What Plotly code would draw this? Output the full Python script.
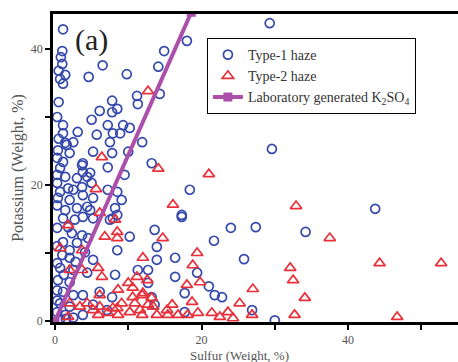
import plotly.graph_objects as go

# Type-1 haze (Sulfur %, Potassium %)
t1_s = [1.1, 1.0, 0.8, 1.0, 0.5, 1.4, 0.7, 1.1, 4.6, 6.5, 9.8, 0.5, 6.1, 7.8, 8.5, 11.2, 11.3, 18.0, 14.9, 14.1, 14.3, 29.3,
        1.1, 5.0, 7.8, 7.2, 5.7, 7.9, 7.5, 1.1, 2.5, 1.4, 0.4, 2.0, 1.1, 0.7, 5.2, 7.8, 7.2, 3.8, 3.8, 0.3, 1.4, 0.3,
        3.0, 4.4, 2.5, 3.7, 5.0, 0.7, 0.4, 2.0, 3.8, 5.2, 1.4, 3.0, 4.4, 4.8, 7.2, 8.2,
        9.3, 10.2, 8.9, 11.9, 10.0, 13.2, 9.5, 8.5, 9.1, 18.4, 17.3, 8.5,
        1.1, 2.7, 3.8, 5.2, 7.9, 0.3, 2.3, 3.7, 1.1, 3.0, 4.5, 1.0, 2.0, 4.1, 5.2, 0.7, 2.5, 4.4, 0.4, 2.0, 8.2,
        1.1, 2.5, 3.8, 6.1, 0.7, 2.0, 5.2, 7.8, 0.3, 1.4, 3.8, 7.1, 7.5, 2.0, 8.5,
        17.3, 13.6, 10.2, 13.9, 13.9, 16.4, 11.3, 12.7, 16.4, 12.7, 19.4, 17.7, 13.2, 13.6, 17.7,
        24.0, 27.4, 21.7, 34.2, 25.8, 21.0, 21.8, 22.8, 26.9, 30.0, 29.6, 43.7,
        0.3, 0.3, 0.3, 0.3, 0.3, 0.3, 0.7, 1.5, 2.5, 0.3, 0.5, 1.8, 1.2, 2.8, 1.8,
        3.1, 1.6, 3.7, 4.8]
t1_k = [42.9, 39.7, 38.8, 37.8, 36.8, 36.2, 35.6, 34.9, 35.9, 37.6, 36.3, 32.2, 30.9, 32.4, 31.2, 33.1, 31.9, 41.2, 39.7, 37.4, 33.4, 43.8,
        28.8, 29.6, 30.7, 28.8, 27.4, 27.6, 26.3, 27.6, 26.3, 26.2, 25.1, 24.7, 23.4, 22.5, 24.9, 24.7, 22.6, 23.2, 21.9, 21.5, 21.2, 20.3,
        21.0, 21.2, 19.3, 19.7, 20.3, 19.0, 18.1, 17.8, 18.5, 18.1, 16.3, 16.6, 16.8, 16.3, 19.3, 16.6,
        28.8, 28.4, 27.6, 26.3, 24.9, 23.2, 21.5, 19.0, 17.8, 19.3, 15.6, 15.6,
        15.1, 14.9, 15.3, 15.1, 15.1, 13.7, 12.9, 12.6, 11.6, 11.5, 12.2, 9.7, 9.3, 10.1, 9.0, 7.8, 7.5, 7.1, 6.0, 5.7, 6.8,
        4.3, 3.8, 3.8, 4.3, 2.6, 2.1, 2.4, 3.5, 1.3, 0.9, 0.9, 1.6, 14.9, 10.4, 10.4,
        15.3, 13.4, 12.4, 10.9, 9.0, 9.3, 7.5, 7.5, 6.5, 5.6, 7.1, 4.1, 3.5, 2.4, 1.3,
        13.7, 13.8, 11.8, 13.1, 9.1, 5.1, 3.8, 3.5, 1.6, 0.1, 25.3, 16.5,
        24.0, 17.0, 11.0, 8.5, 4.5, 3.0, 0.3, 0.3, 0.5, 30.0, 26.8, 13.8, 6.8, 8.7, 19.5,
        27.8, 25.9, 22.9, 21.8]

# Type-2 haze
t2_s = [12.7, 6.4, 14.1, 21.0, 5.6, 6.1, 16.1, 14.7, 1.8, 0.7, 6.8, 8.5, 8.2, 8.5, 2.0, 3.7, 5.9, 6.4, 3.7,
        2.0, 4.4, 5.2, 6.1, 7.2, 8.5, 1.8, 5.9, 12.0, 19.4, 18.8, 11.2, 12.6, 10.0, 18.0, 8.6, 10.6, 11.9,
        9.1, 10.9, 12.7, 16.0, 18.7, 8.6, 10.2, 11.9, 13.9, 15.4, 16.8, 18.1, 19.5, 19.8,
        32.1, 32.5, 27.0, 25.2, 34.1, 21.4, 23.6, 26.9, 32.7, 22.5, 24.3, 32.9, 37.5, 44.3, 52.7, 46.7,
        6.1, 7.9, 3.4, 10.6, 12.0, 13.2, 13.4, 11.6, 15.3]
t2_k = [33.8, 24.1, 22.4, 21.6, 19.4, 15.9, 17.1, 12.2, 14.1, 10.7, 12.4, 12.2, 14.9, 13.1, 7.5, 7.5, 7.8, 6.5, 10.4,
        2.6, 2.6, 1.6, 2.1, 1.2, 1.9, 0.6, 0.9, 9.3, 10.0, 8.2, 6.5, 6.0, 5.6, 5.3, 4.6, 4.9, 3.8,
        2.6, 2.6, 2.4, 2.4, 2.8, 0.9, 1.3, 0.9, 0.9, 0.9, 0.9, 0.9, 1.2, 5.7,
        7.8, 6.0, 4.7, 2.6, 3.4, 1.2, 1.3, 0.9, 0.9, 0.6, 0.4, 16.9, 12.2, 8.5, 8.5, 0.6,
        3.8, 1.9, 2.1, 3.5, 4.1, 3.4, 2.1, 1.6, 1.6]

# Laboratory generated K2SO4
lab_s = [0, 18.6]
lab_k = [0, 45.4]

x_ticks = [0, 10, 20, 30, 40, 50]
x_labels = ["0", "", "20", "", "40", ""]
y_ticks = [0, 10, 20, 30, 40]
y_labels = ["0", "", "20", "", "40"]

serif = "Liberation Serif, Times New Roman, serif"
blue = "#3549ac"
red = "#e8303a"
purple = "#ab4fab"

fig = go.Figure()
fig.add_trace(go.Scatter(
    x=t1_s, y=t1_k, mode="markers", name="Type-1 haze",
    marker=dict(symbol="circle-open", size=9, color=blue, line=dict(width=1.7, color=blue))))
fig.add_trace(go.Scatter(
    x=t2_s, y=t2_k, mode="markers", name="Type-2 haze",
    marker=dict(symbol="triangle-up-open", size=10, color=red, line=dict(width=1.7, color=red))))
fig.add_trace(go.Scatter(
    x=lab_s, y=lab_k, mode="lines+markers", name="Laboratory generated K<sub>2</sub>SO<sub>4</sub>",
    line=dict(color=purple, width=4),
    marker=dict(symbol="square", size=9, color=purple)))

fig.add_annotation(x=0.096, y=0.916, xref="paper", yref="paper", text="(a)", showarrow=False,
                   xanchor="center", yanchor="middle",
                   font=dict(family=serif, size=30, color="#222"))
# x-axis title
fig.add_annotation(x=0.46, y=-0.109, xref="paper", yref="paper", text="Sulfur (Weight, %)", showarrow=False,
                   xanchor="center", yanchor="middle",
                   font=dict(family=serif, size=13, color="#555"))

axis_common = dict(
    showgrid=False, zeroline=False, showline=True, linecolor="black", linewidth=2.5, mirror=True,
    ticks="outside", ticklen=5, tickwidth=2, tickcolor="black", automargin=False,
    tickfont=dict(family=serif, size=12, color="#555"))

fig.update_xaxes(range=[-0.27, 55], tickmode="array", tickvals=x_ticks, ticktext=x_labels,
                 **axis_common)
fig.update_yaxes(range=[-0.15, 45.15], tickmode="array", tickvals=y_ticks, ticktext=y_labels,
                 title=dict(text="Potassium (Weight, %)", font=dict(family=serif, size=16, color="#555"), standoff=4),
                 **axis_common)

fig.update_layout(
    width=458, height=362,
    margin=dict(l=53, r=0, t=14, b=40),
    paper_bgcolor="white", plot_bgcolor="white",
    legend=dict(x=0.38, y=0.922, xanchor="left", yanchor="top",
                bordercolor="black", borderwidth=1, bgcolor="white",
                font=dict(family=serif, size=14, color="#333"),
                tracegroupgap=0, itemwidth=30),
)

fig.write_html("out.html")
